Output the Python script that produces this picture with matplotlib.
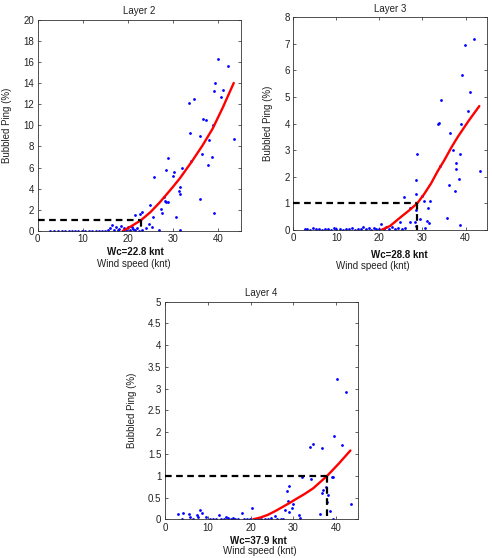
import matplotlib
matplotlib.use("Agg")
import matplotlib.pyplot as plt
import numpy as np

plt.rcParams['font.family'] = ['Liberation Sans', 'DejaVu Sans']

# ---------------- data ----------------
l2_x = [2.7, 3.6, 4.4, 5.3, 6.1, 6.9, 7.6, 8.3, 9.0, 9.7, 10.5, 11.3, 12.1, 12.8, 13.6, 14.3, 15.0,
        15.6, 16.1, 16.5, 16.9, 17.3, 17.7, 18.0, 18.4, 18.8, 19.2, 19.6, 20.0, 20.4, 20.8, 21.2,
        21.6, 22.0, 22.4, 23.0,
        40.0, 42.1, 39.2, 39.1, 41.0, 40.6, 34.5, 33.5, 36.5, 37.3, 38.75, 33.75, 36.0, 37.9, 43.4,
        36.3, 38.5, 33.9, 37.6, 28.8, 28.4, 30.2, 31.9, 29.9, 25.7, 31.5, 31.3, 31.6, 36.0, 27.9,
        28.2, 28.5, 28.9, 24.9, 27.3, 27.5, 30.6, 39.0, 23.2, 22.6, 21.5, 25.5, 31.4, 26.8, 24.6,
        25.2, 24.0]
l2_y = [0, 0, 0, 0.02, 0, 0, 0.03, 0, 0, 0.02, 0, 0, 0.02, 0, 0, 0.03, 0,
        0.05, 0.3, 0.6, 0.1, 0.35, 0.05, 0.2, 0.45, 0, 0.25, 0.1, 0.35, 0.05, 0.4, 0.15,
        0.05, 0.25, 0.0, 0.1,
        16.3, 15.6, 14.0, 13.2, 13.3, 12.7, 12.5, 12.1, 10.6, 10.5, 10.0, 9.3, 9.0, 8.6, 8.7,
        7.3, 7.0, 6.6, 6.2, 6.9, 5.8, 5.6, 6.0, 5.2, 5.1, 4.2, 3.8, 3.5, 3.05, 3.2,
        2.8, 2.7, 2.7, 2.5, 2.1, 1.75, 1.3, 1.7, 1.8, 1.6, 1.5, 1.35, 0.1, 0.1, 0.7,
        0.4, 0.25]
l2_fit_x = [18.8, 20.5, 22.8, 25.0, 27.0, 29.8, 31.5, 34.0, 36.5, 38.75, 41.0, 43.4]
l2_fit_y = [0.0, 0.4, 1.0, 1.8, 2.7, 4.1, 5.0, 6.5, 8.1, 9.7, 11.7, 14.0]

l3_x = [2.7, 3.3, 4.0, 4.6, 5.3, 6.0, 6.6, 7.3, 8.0, 8.7, 9.4, 10.0, 10.8, 11.5, 12.2, 12.9, 13.6,
        14.3, 15.0, 15.7, 16.3, 16.9, 17.5, 18.1, 18.7, 19.3, 19.9, 21.0, 21.6, 22.3, 23.0, 23.7,
        24.4, 25.3, 26.0,
        42.0, 39.9, 39.1, 41.1, 34.4, 33.5, 33.8, 39.0, 40.5, 36.4, 37.1, 38.6, 34.0, 37.9, 37.8,
        43.3, 38.4, 36.1, 37.5, 28.4, 28.7, 28.4, 25.6, 30.0, 30.4, 31.7, 31.2, 27.0, 28.6, 35.8,
        29.4, 27.1, 28.2, 31.1, 31.6, 24.7, 20.3, 38.8, 28.6, 30.5]
l3_y = [0.02, 0.05, 0.0, 0.06, 0.02, 0.04, 0.01, 0.03, 0.05, 0.0, 0.08, 0.02, 0.05, 0.0, 0.04, 0.02, 0.06,
        0.0, 0.05, 0.02, 0.12, 0.03, 0.08, 0.01, 0.06, 0.02, 0.04, 0.03, 0.1, 0.05, 0.12, 0.04,
        0.08, 0.02, 0.06,
        7.17, 6.95, 5.83, 5.2, 4.89, 4.0, 4.04, 4.0, 4.48, 3.64, 3.0, 2.86, 2.41, 2.5, 2.3,
        2.22, 1.9, 1.69, 1.47, 1.86, 2.87, 1.35, 1.23, 1.28, 1.1, 1.08, 0.83, 0.82, 0.75, 0.46,
        0.41, 0.31, 0.31, 0.34, 0.25, 0.3, 0.24, 0.18, 0.13, 0.06]
l3_fit_x = [20.5, 22.5, 25.1, 26.8, 28.8, 30.4, 32.0, 33.5, 35.1, 36.7, 38.2, 40.7, 43.2]
l3_fit_y = [0.0, 0.15, 0.5, 0.72, 1.0, 1.35, 1.75, 2.2, 2.63, 3.1, 3.5, 4.1, 4.66]

l4_x = [3.1, 4.3, 5.6, 5.8, 7.4, 8.3, 8.7, 7.8, 9.6, 12.6, 14.2, 15.9,
        4.0, 6.5, 10.5, 11.2, 11.9, 13.0, 13.7, 14.8, 15.5, 16.4, 17.0, 18.5, 19.2, 19.8, 21.0,
        21.8, 22.5, 23.3, 24.0, 24.8, 26.2, 27.0, 27.6,
        40.2, 42.3, 39.4, 41.4, 33.9, 34.5, 36.7, 32.1, 34.0, 39.2, 39.0, 37.6, 36.6, 36.8, 38.0,
        29.0, 28.6, 28.7, 29.9, 29.7, 43.4, 28.1, 36.2, 37.8, 38.5, 20.4, 17.9, 29.0, 31.3, 25.6,
        31.5, 39.2]
l4_y = [0.13, 0.15, 0.12, 0.05, 0.1, 0.21, 0.15, 0.06, 0.05, 0.09, 0.06, 0.04,
        0, 0, 0, 0, 0, 0, 0.01, 0.02, 0, 0.01, 0, 0, 0, 0.01, 0,
        0, 0.01, 0, 0, 0.02, 0, 0.01, 0,
        3.22, 2.93, 1.92, 1.70, 1.65, 1.72, 1.64, 0.97, 0.92, 0.97, 0.96, 0.75, 0.6, 0.67, 0.56,
        0.76, 0.65, 0.42, 0.36, 0.27, 0.34, 0.21, 0.12, 0.4, 0.18, 0.25, 0.15, 0.17, 0.09, 0.08,
        0.02, 0.0]
l4_fit_x = [20.6, 22.3, 24.0, 25.8, 27.6, 29.2, 30.7, 32.6, 34.6, 36.2, 37.9, 40.6, 43.3]
l4_fit_y = [0.0, 0.04, 0.1, 0.19, 0.29, 0.38, 0.47, 0.58, 0.71, 0.85, 1.0, 1.28, 1.58]

titles = ["Layer 2", "Layer 3", "Layer 4"]
wc_values = [22.8, 28.8, 37.9]
y_maxes = [20, 8, 5]
y_ticks = [list(range(0, 21, 2)), list(range(0, 9)), [0, 0.5, 1, 1.5, 2, 2.5, 3, 3.5, 4, 4.5, 5]]
y_ticklabels = [[str(v) for v in y_ticks[0]], [str(v) for v in y_ticks[1]],
                ["0", "0.5", "1", "1.5", "2", "2.5", "3", "3.5", "4", "4.5", "5"]]
x_ticks = [0, 10, 20, 30, 40]

# ---------------- layout ----------------
fig = plt.figure(figsize=(4.92, 5.58), dpi=100)
positions = [[0.0766, 0.586, 0.4132, 0.379],
             [0.596, 0.588, 0.394, 0.381],
             [0.335, 0.0694, 0.392, 0.390]]
wc_pos = [(0.482, -0.099), (0.545, -0.118), (0.487, -0.100)]
ws_pos = [(0.474, -0.156), (0.411, -0.169), (0.492, -0.148)]
ylab_x = [7.3, 267.7, 131.7]

data = [(l2_x, l2_y, l2_fit_x, l2_fit_y), (l3_x, l3_y, l3_fit_x, l3_fit_y),
        (l4_x, l4_y, l4_fit_x, l4_fit_y)]

fs = 7.0
for i in range(3):
    ax = fig.add_axes(positions[i])
    sx, sy, fx, fy = data[i]
    wc = wc_values[i]
    ax.plot(sx, sy, linestyle='none', marker='o', markersize=2.0, color='#0000ff',
            markeredgewidth=0, zorder=2)
    ax.plot(fx, fy, color='#ff0000', linewidth=1.7, zorder=3, solid_capstyle='round',
            solid_joinstyle='round')
    ax.plot([0, wc], [1, 1], color='black', linestyle=(0, (3, 2)), linewidth=1.6, zorder=4)
    ax.plot([wc, wc], [1, 0], color='black', linestyle=(0, (3, 2)), linewidth=1.6, zorder=4)
    ax.set_xlim(0, 45)
    ax.set_ylim(0, y_maxes[i])
    ax.set_xticks(x_ticks)
    ax.set_xticklabels([str(v) for v in x_ticks])
    ax.set_yticks(y_ticks[i])
    ax.set_yticklabels(y_ticklabels[i])
    ax.tick_params(direction='in', length=2.5, width=0.5, labelsize=fs, top=True, right=True,
                   pad=2.5, colors='#222222')
    for sp in ax.spines.values():
        sp.set_linewidth(0.6)
        sp.set_color('#333333')
    ax.set_title(titles[i], fontsize=fs, pad=4, color='#222222')
    ax.text(wc_pos[i][0], wc_pos[i][1], f"Wc={wc} knt", transform=ax.transAxes,
            ha='center', va='center', fontsize=fs, fontweight='bold', color='#111111')
    ax.text(ws_pos[i][0], ws_pos[i][1], "Wind speed (knt)", transform=ax.transAxes,
            ha='center', va='center', fontsize=fs, color='#222222')
    bb = positions[i]
    yc = bb[1] + bb[3] / 2
    fig.text(ylab_x[i] / 492, yc, "Bubbled Ping (%)", rotation=90, ha='center', va='center',
             fontsize=fs, color='#222222')

fig.savefig("out.png", dpi=100)
